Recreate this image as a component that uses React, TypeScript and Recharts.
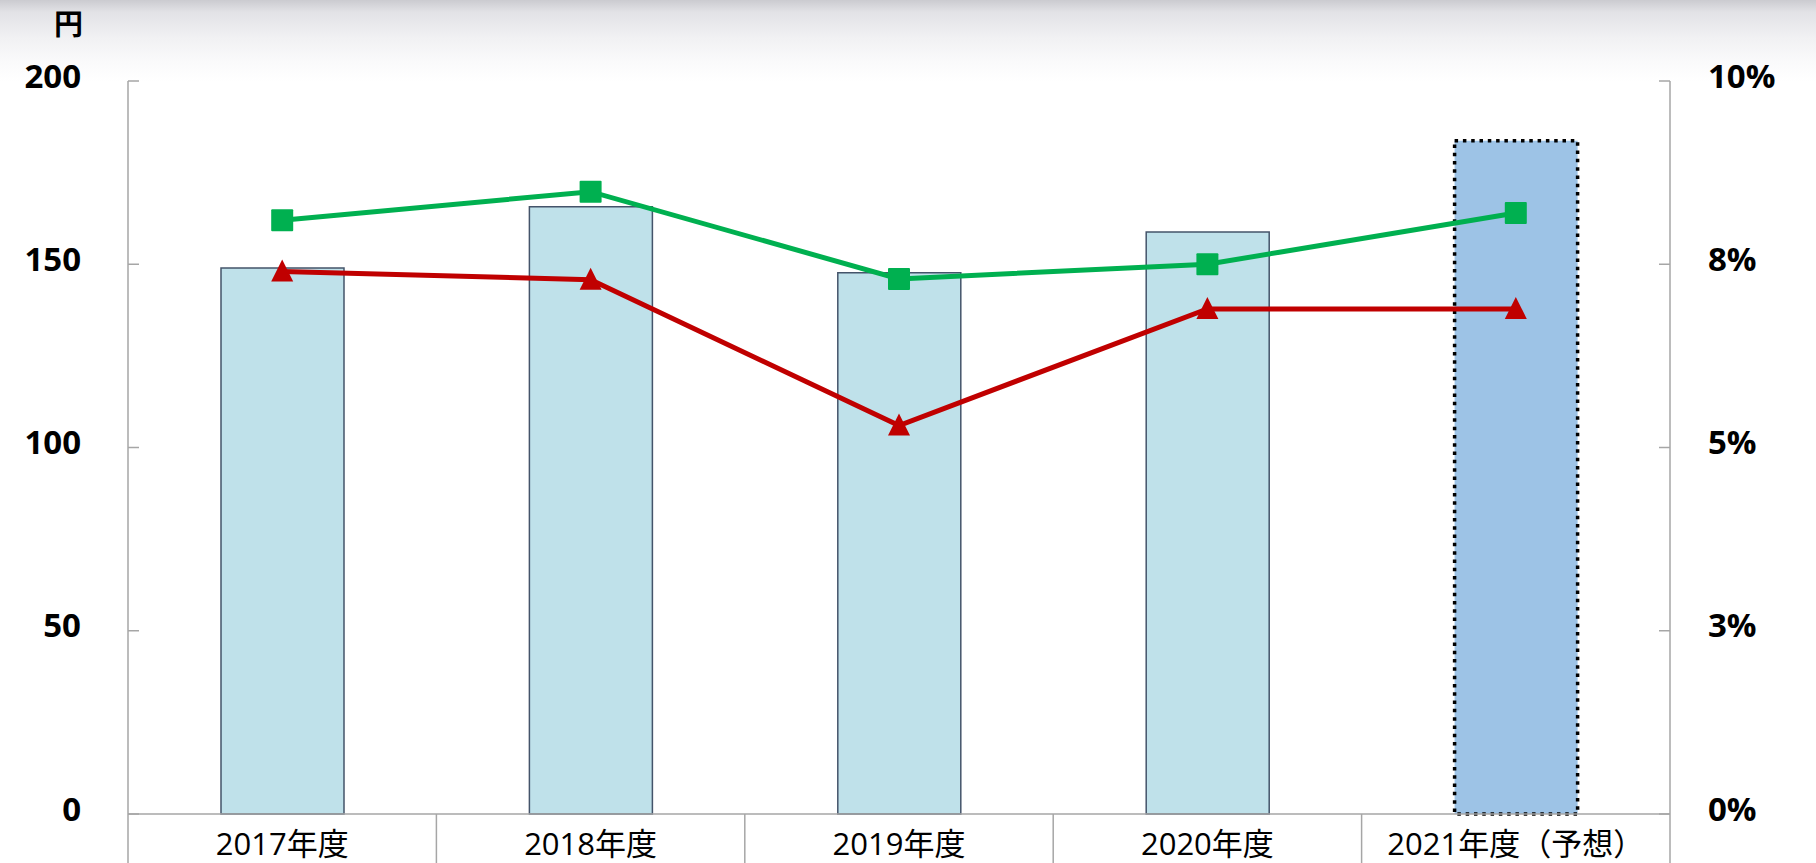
import {
  ComposedChart,
  Bar,
  Cell,
  Line,
  XAxis,
  YAxis,
} from "recharts";

const categories = ["2017年度", "2018年度", "2019年度", "2020年度", "2021年度（予想）"];
const dividend = [149, 165.7, 147.7, 158.8, 183.7];
const greenRate = [8.1, 8.49, 7.3, 7.5, 8.2];
const redRate = [7.4, 7.29, 5.3, 6.89, 6.89];
const forecast = [false, false, false, false, true];
const leftTicks = [0, 50, 100, 150, 200];
const rightTicks = [0, 2.5, 5, 7.5, 10];
const rightTickLabels = ["0%", "3%", "5%", "8%", "10%"];

const data = categories.map((name, i) => ({
  name,
  dividend: dividend[i],
  green: greenRate[i],
  red: redRate[i],
}));

const FONT = "'Open Sans', 'Noto Sans CJK JP', sans-serif";
const AXIS = "#a6a6a6";

function LeftTick({ x, y, payload }: any) {
  return (
    <g>
      <line x1={x} x2={x + 11} y1={y} y2={y} stroke={AXIS} strokeWidth={1.5} />
      <text
        x={x - 47}
        y={y - 6}
        textAnchor="end"
        dominantBaseline="central"
        fontFamily={FONT}
        fontWeight={700}
        fontSize={33}
        fill="#000"
      >
        {payload.value}
      </text>
    </g>
  );
}

function RightTick({ x, y, index }: any) {
  return (
    <g>
      <line x1={x - 11} x2={x} y1={y} y2={y} stroke={AXIS} strokeWidth={1.5} />
      <text
        x={x + 38}
        y={y - 6}
        textAnchor="start"
        dominantBaseline="central"
        fontFamily={FONT}
        fontWeight={700}
        fontSize={33}
        fill="#000"
      >
        {rightTickLabels[index]}
      </text>
    </g>
  );
}

function CategoryTick({ x, y, payload, index, width, visibleTicksCount }: any) {
  const band = width / visibleTicksCount;
  const last = index === visibleTicksCount - 1;
  return (
    <g>
      <line x1={x - band / 2} x2={x - band / 2} y1={y} y2={y + 60} stroke={AXIS} strokeWidth={1.5} />
      {last && (
        <line x1={x + band / 2} x2={x + band / 2} y1={y} y2={y + 60} stroke={AXIS} strokeWidth={1.5} />
      )}
      <text
        x={x}
        y={y + 29}
        textAnchor="middle"
        dominantBaseline="central"
        fontFamily={FONT}
        fontSize={31}
        fill="#000"
      >
        {payload.value}
      </text>
    </g>
  );
}

function SquareDot({ cx, cy }: any) {
  if (cx == null || cy == null) return null;
  return <rect x={cx - 11} y={cy - 11} width={22} height={22} rx={1} fill="#00b050" />;
}

function TriangleDot({ cx, cy }: any) {
  if (cx == null || cy == null) return null;
  return (
    <polygon
      points={`${cx},${cy - 12} ${cx + 11},${cy + 10} ${cx - 11},${cy + 10}`}
      fill="#c00000"
    />
  );
}

export default function App() {
  return (
    <div
      style={{
        position: "absolute",
        left: 0,
        top: 0,
        width: 1816,
        height: 863,
        overflow: "hidden",
        background:
          "linear-gradient(to bottom, #cbcbd0 0px, #e2e2e6 12px, #f1f1f3 38px, #fafafb 62px, #ffffff 82px)",
      }}
    >
      <div
        style={{
          position: "absolute",
          left: 54,
          top: 5,
          fontFamily: "'Noto Sans CJK JP', sans-serif",
          fontWeight: 700,
          fontSize: 29,
          lineHeight: "34px",
          color: "#000",
        }}
      >
        円
      </div>
      <ComposedChart
        width={1816}
        height={863}
        data={data}
        margin={{ top: 81, right: 0, bottom: 0, left: 0 }}
        style={{ position: "absolute", left: 0, top: 0 }}
      >
        <XAxis
          dataKey="name"
          height={49}
          stroke={AXIS}
          strokeWidth={1.5}
          tickLine={false}
          tickSize={0}
          tickMargin={0}
          interval={0}
          tick={<CategoryTick />}
        />
        <YAxis
          yAxisId="left"
          width={128}
          domain={[0, 200]}
          ticks={leftTicks}
          stroke={AXIS}
          strokeWidth={1.5}
          tickLine={false}
          tickSize={0}
          tickMargin={0}
          tick={<LeftTick />}
        />
        <YAxis
          yAxisId="right"
          orientation="right"
          width={146}
          domain={[0, 10]}
          ticks={rightTicks}
          stroke={AXIS}
          strokeWidth={1.5}
          tickLine={false}
          tickSize={0}
          tickMargin={0}
          tick={<RightTick />}
        />
        <Bar dataKey="dividend" yAxisId="left" barSize={123} isAnimationActive={false}>
          {data.map((d, i) =>
            forecast[i] ? (
              <Cell
                key={d.name}
                fill="#9dc3e6"
                stroke="#000"
                strokeWidth={3.5}
                strokeDasharray="3.5 4.8"
              />
            ) : (
              <Cell key={d.name} fill="#bfe1ea" stroke="#44546a" strokeWidth={1.5} />
            )
          )}
        </Bar>
        <Line
          dataKey="red"
          yAxisId="right"
          stroke="#c00000"
          strokeWidth={5}
          dot={<TriangleDot />}
          activeDot={false}
          isAnimationActive={false}
        />
        <Line
          dataKey="green"
          yAxisId="right"
          stroke="#00b050"
          strokeWidth={5}
          dot={<SquareDot />}
          activeDot={false}
          isAnimationActive={false}
        />
      </ComposedChart>
    </div>
  );
}
